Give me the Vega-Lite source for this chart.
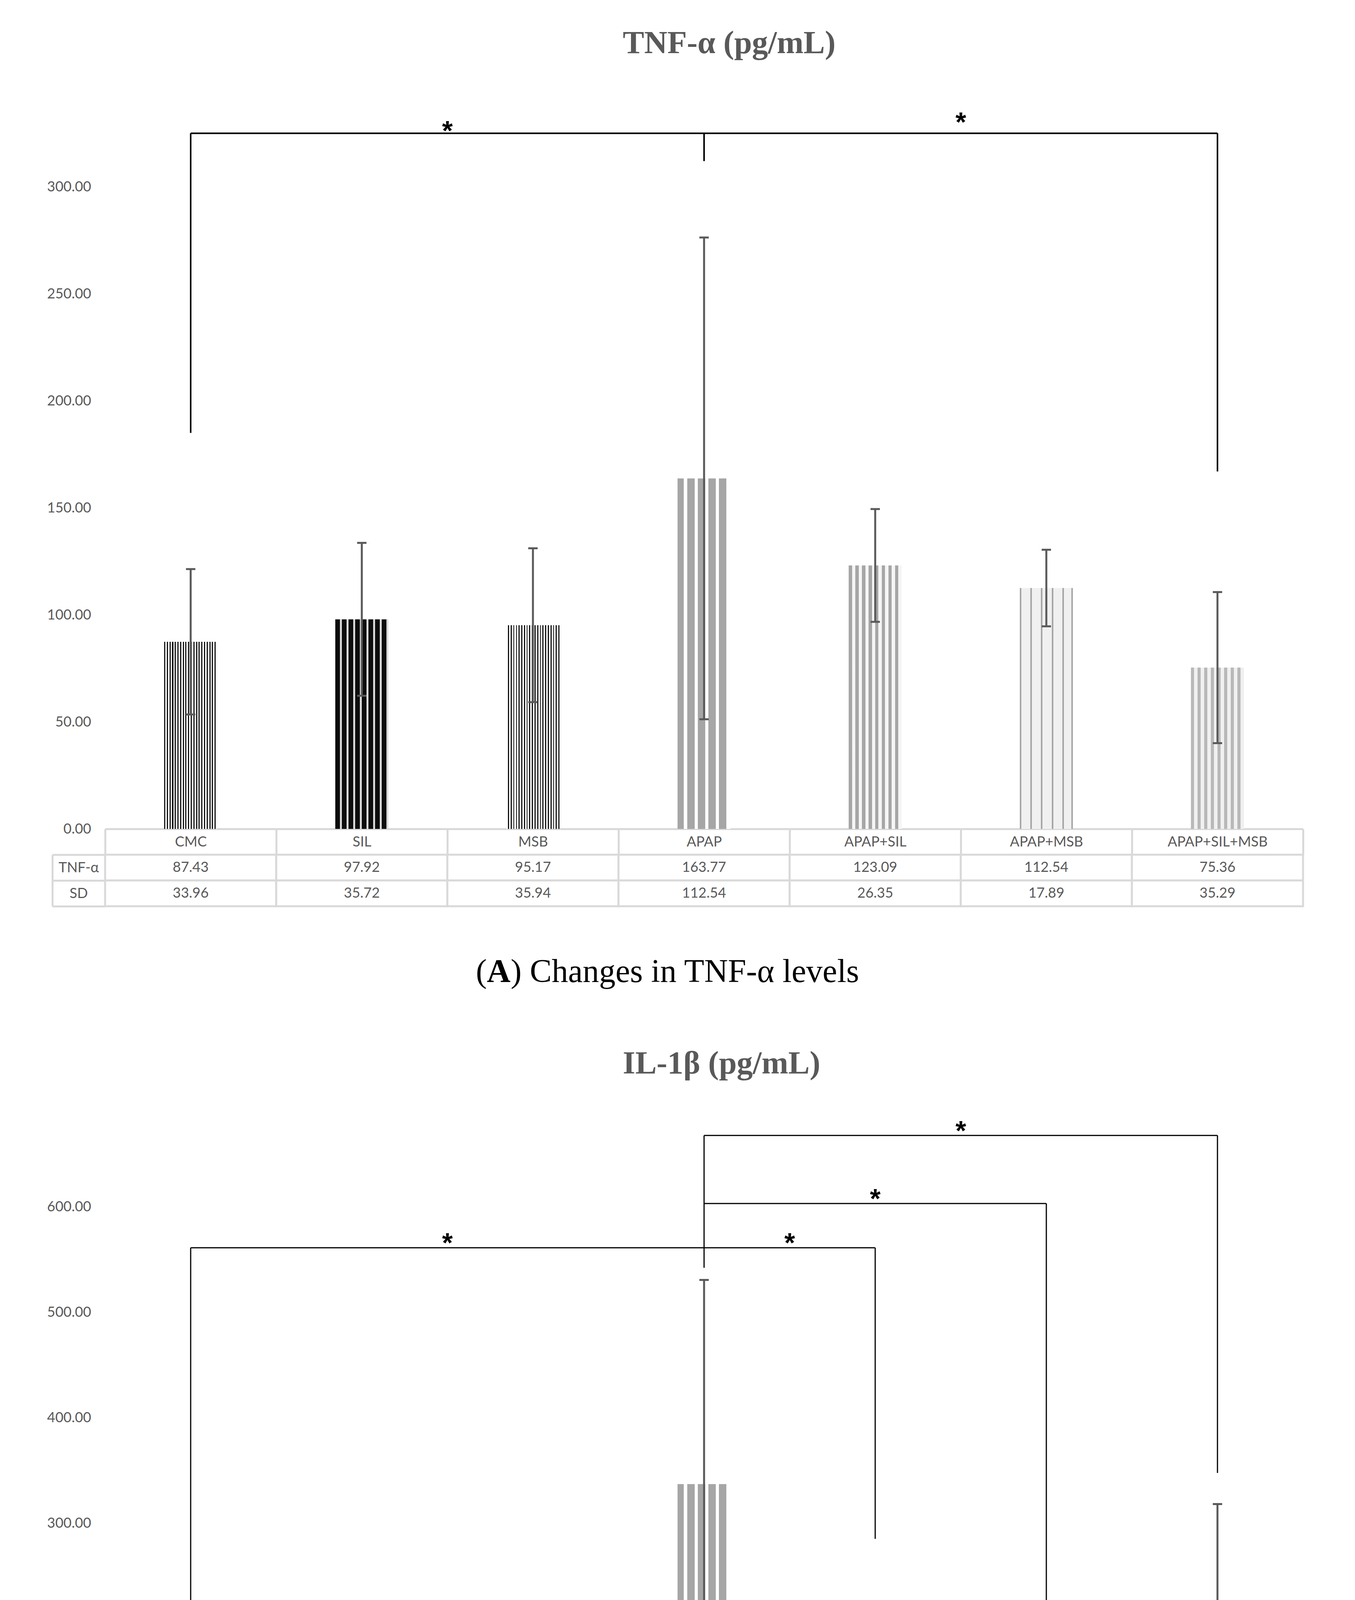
{
  "$schema": "https://vega.github.io/schema/vega-lite/v6.json",
  "background": "white",
  "padding": {"left": 120, "top": 70, "right": 40, "bottom": 10},
  "config": {"view": {"stroke": null}, "text": {"font": "Lato"}},
  "bounds": "flush",
  "spacing": 66,
  "datasets": {
    "tnf": [
      {"group": "CMC", "mean": 87.43, "sd": 33.96, "lo": 53.47, "hi": 121.39},
      {"group": "SIL", "mean": 97.92, "sd": 35.72, "lo": 62.2, "hi": 133.64},
      {"group": "MSB", "mean": 95.17, "sd": 35.94, "lo": 59.23, "hi": 131.11},
      {"group": "APAP", "mean": 163.77, "sd": 112.54, "lo": 51.23, "hi": 276.31},
      {"group": "APAP+SIL", "mean": 123.09, "sd": 26.35, "lo": 96.74, "hi": 149.44},
      {"group": "APAP+MSB", "mean": 112.54, "sd": 17.89, "lo": 94.65, "hi": 130.43},
      {"group": "APAP+SIL+MSB", "mean": 75.36, "sd": 35.29, "lo": 40.07, "hi": 110.65}
    ],
    "il": [
      {"group": "CMC", "mean": 97.04, "sd": 22.47, "lo": 76, "hi": 117},
      {"group": "SIL", "mean": 95.32, "sd": 9.48, "lo": 77, "hi": 113},
      {"group": "MSB", "mean": 82.04, "sd": 8.41, "lo": 65.5, "hi": 98.5},
      {"group": "APAP", "mean": 336.92, "sd": 44.89, "lo": 143, "hi": 530.5},
      {"group": "APAP+SIL", "mean": 160.2, "sd": 6.16, "lo": 101, "hi": 219},
      {"group": "APAP+MSB", "mean": 104.53, "sd": 9.13, "lo": 61, "hi": 147},
      {"group": "APAP+SIL+MSB", "mean": 171.57, "sd": 9.04, "lo": 25, "hi": 318}
    ],
    "tnfLines": [
      {"from": "CMC", "to": "APAP+SIL+MSB", "low": 325, "high": 325},
      {"from": "CMC", "to": "CMC", "low": 185, "high": 325},
      {"from": "APAP", "to": "APAP", "low": 312, "high": 325},
      {"from": "APAP+SIL+MSB", "to": "APAP+SIL+MSB", "low": 167, "high": 325}
    ],
    "ilLines": [
      {"from": "CMC", "to": "APAP+SIL", "low": 561, "high": 561},
      {"from": "APAP", "to": "APAP+MSB", "low": 603, "high": 603},
      {"from": "APAP", "to": "APAP+SIL+MSB", "low": 667.5, "high": 667.5},
      {"from": "CMC", "to": "CMC", "low": 145, "high": 561},
      {"from": "APAP", "to": "APAP", "low": 542, "high": 667.5},
      {"from": "APAP+SIL", "to": "APAP+SIL", "low": 285, "high": 561},
      {"from": "APAP+MSB", "to": "APAP+MSB", "low": 188, "high": 603},
      {"from": "APAP+SIL+MSB", "to": "APAP+SIL+MSB", "low": 347.5, "high": 667.5}
    ],
    "tnfStars": [
      {"at": "MSB", "anchor": "edge", "level": 324},
      {"at": "APAP+MSB", "anchor": "edge", "level": 328}
    ],
    "ilStars": [
      {"at": "MSB", "anchor": "edge", "level": 561},
      {"at": "APAP+SIL", "anchor": "edge", "level": 561},
      {"at": "APAP+SIL", "anchor": "center", "level": 603},
      {"at": "APAP+MSB", "anchor": "edge", "level": 667.5}
    ],
    "capA": [
      {"part": "(", "kind": "open"}
    ],
    "capB": [
      {"part": "(", "kind": "open"}
    ]
  },
  "vconcat": [
    {
      "width": 3066,
      "height": 1863,
      "title": {"text": "TNF-α (pg/mL)", "font": "Liberation Serif", "fontSize": 82, "fontWeight": "bold", "color": "#595959", "anchor": "start", "frame": "group", "dx": 1325, "offset": 106},
      "layer": [
        {
          "data": {"name": "tnf"},
          "mark": {"type": "bar", "width": {"band": 0.31}},
          "encoding": {
            "x": {"field": "group", "type": "nominal", "title": null, "scale": {"type": "band", "domain": ["CMC", "SIL", "MSB", "APAP", "APAP+SIL", "APAP+MSB", "APAP+SIL+MSB"], "paddingInner": 0, "paddingOuter": 0},
              "axis": {"orient": "bottom", "domain": true, "domainColor": "#d9d9d9", "domainWidth": 5, "ticks": true, "tickBand": "extent", "tickSize": 66, "tickColor": "#d9d9d9", "tickWidth": 5, "labelAngle": 0, "labelLimit": 0, "labelFont": "Lato", "labelFontSize": 36, "labelColor": "#595959", "labelPadding": -33, "labelBaseline": "middle", "grid": false}},
            "y": {"field": "mean", "type": "quantitative", "title": null, "scale": {"domain": [0, 340], "nice": false},
              "axis": {"values": [0, 50, 100, 150, 200, 250, 300], "format": ".2f", "domain": false, "ticks": false, "grid": false, "labelFont": "Lato", "labelFontSize": 36, "labelColor": "#595959", "labelPadding": 36, "labelBaseline": "middle"}},
            "color": {
              "condition": [
                {"test": "datum.group === 'CMC'", "value": {"gradient": "linear", "x1": 0, "y1": 0, "x2": 1, "y2": 0, "stops": [
                  {"offset": 0, "color": "#111111"}, {"offset": 0.0225, "color": "#111111"}, {"offset": 0.0225, "color": "#ffffff"}, {"offset": 0.05, "color": "#ffffff"},
                  {"offset": 0.05, "color": "#111111"}, {"offset": 0.0725, "color": "#111111"}, {"offset": 0.0725, "color": "#ffffff"}, {"offset": 0.1, "color": "#ffffff"},
                  {"offset": 0.1, "color": "#111111"}, {"offset": 0.1225, "color": "#111111"}, {"offset": 0.1225, "color": "#ffffff"}, {"offset": 0.15, "color": "#ffffff"},
                  {"offset": 0.15, "color": "#111111"}, {"offset": 0.1725, "color": "#111111"}, {"offset": 0.1725, "color": "#ffffff"}, {"offset": 0.2, "color": "#ffffff"},
                  {"offset": 0.2, "color": "#111111"}, {"offset": 0.2225, "color": "#111111"}, {"offset": 0.2225, "color": "#ffffff"}, {"offset": 0.25, "color": "#ffffff"},
                  {"offset": 0.25, "color": "#111111"}, {"offset": 0.2725, "color": "#111111"}, {"offset": 0.2725, "color": "#ffffff"}, {"offset": 0.3, "color": "#ffffff"},
                  {"offset": 0.3, "color": "#111111"}, {"offset": 0.3225, "color": "#111111"}, {"offset": 0.3225, "color": "#ffffff"}, {"offset": 0.35, "color": "#ffffff"},
                  {"offset": 0.35, "color": "#111111"}, {"offset": 0.3725, "color": "#111111"}, {"offset": 0.3725, "color": "#ffffff"}, {"offset": 0.4, "color": "#ffffff"},
                  {"offset": 0.4, "color": "#111111"}, {"offset": 0.4225, "color": "#111111"}, {"offset": 0.4225, "color": "#ffffff"}, {"offset": 0.45, "color": "#ffffff"},
                  {"offset": 0.45, "color": "#111111"}, {"offset": 0.4725, "color": "#111111"}, {"offset": 0.4725, "color": "#ffffff"}, {"offset": 0.5, "color": "#ffffff"},
                  {"offset": 0.5, "color": "#111111"}, {"offset": 0.5225, "color": "#111111"}, {"offset": 0.5225, "color": "#ffffff"}, {"offset": 0.55, "color": "#ffffff"},
                  {"offset": 0.55, "color": "#111111"}, {"offset": 0.5725, "color": "#111111"}, {"offset": 0.5725, "color": "#ffffff"}, {"offset": 0.6, "color": "#ffffff"},
                  {"offset": 0.6, "color": "#111111"}, {"offset": 0.6225, "color": "#111111"}, {"offset": 0.6225, "color": "#ffffff"}, {"offset": 0.65, "color": "#ffffff"},
                  {"offset": 0.65, "color": "#111111"}, {"offset": 0.6725, "color": "#111111"}, {"offset": 0.6725, "color": "#ffffff"}, {"offset": 0.7, "color": "#ffffff"},
                  {"offset": 0.7, "color": "#111111"}, {"offset": 0.7225, "color": "#111111"}, {"offset": 0.7225, "color": "#ffffff"}, {"offset": 0.75, "color": "#ffffff"},
                  {"offset": 0.75, "color": "#111111"}, {"offset": 0.7725, "color": "#111111"}, {"offset": 0.7725, "color": "#ffffff"}, {"offset": 0.8, "color": "#ffffff"},
                  {"offset": 0.8, "color": "#111111"}, {"offset": 0.8225, "color": "#111111"}, {"offset": 0.8225, "color": "#ffffff"}, {"offset": 0.85, "color": "#ffffff"},
                  {"offset": 0.85, "color": "#111111"}, {"offset": 0.8725, "color": "#111111"}, {"offset": 0.8725, "color": "#ffffff"}, {"offset": 0.9, "color": "#ffffff"},
                  {"offset": 0.9, "color": "#111111"}, {"offset": 0.9225, "color": "#111111"}, {"offset": 0.9225, "color": "#ffffff"}, {"offset": 0.95, "color": "#ffffff"},
                  {"offset": 0.95, "color": "#111111"}, {"offset": 0.9725, "color": "#111111"}, {"offset": 0.9725, "color": "#ffffff"}, {"offset": 1, "color": "#ffffff"}]}},
                {"test": "datum.group === 'SIL'", "value": {"gradient": "linear", "x1": 0, "y1": 0, "x2": 1, "y2": 0, "stops": [
                  {"offset": 0, "color": "#0d0d0d"}, {"offset": 0.0875, "color": "#0d0d0d"}, {"offset": 0.0875, "color": "#d9d9d9"}, {"offset": 0.125, "color": "#d9d9d9"},
                  {"offset": 0.125, "color": "#0d0d0d"}, {"offset": 0.2125, "color": "#0d0d0d"}, {"offset": 0.2125, "color": "#d9d9d9"}, {"offset": 0.25, "color": "#d9d9d9"},
                  {"offset": 0.25, "color": "#0d0d0d"}, {"offset": 0.3375, "color": "#0d0d0d"}, {"offset": 0.3375, "color": "#d9d9d9"}, {"offset": 0.375, "color": "#d9d9d9"},
                  {"offset": 0.375, "color": "#0d0d0d"}, {"offset": 0.4625, "color": "#0d0d0d"}, {"offset": 0.4625, "color": "#d9d9d9"}, {"offset": 0.5, "color": "#d9d9d9"},
                  {"offset": 0.5, "color": "#0d0d0d"}, {"offset": 0.5875, "color": "#0d0d0d"}, {"offset": 0.5875, "color": "#d9d9d9"}, {"offset": 0.625, "color": "#d9d9d9"},
                  {"offset": 0.625, "color": "#0d0d0d"}, {"offset": 0.7125, "color": "#0d0d0d"}, {"offset": 0.7125, "color": "#d9d9d9"}, {"offset": 0.75, "color": "#d9d9d9"},
                  {"offset": 0.75, "color": "#0d0d0d"}, {"offset": 0.8375, "color": "#0d0d0d"}, {"offset": 0.8375, "color": "#d9d9d9"}, {"offset": 0.875, "color": "#d9d9d9"},
                  {"offset": 0.875, "color": "#0d0d0d"}, {"offset": 0.9625, "color": "#0d0d0d"}, {"offset": 0.9625, "color": "#d9d9d9"}, {"offset": 1, "color": "#d9d9d9"}]}},
                {"test": "datum.group === 'MSB'", "value": {"gradient": "linear", "x1": 0, "y1": 0, "x2": 1, "y2": 0, "stops": [
                  {"offset": 0, "color": "#ffffff"}, {"offset": 0.03, "color": "#ffffff"}, {"offset": 0.03, "color": "#111111"}, {"offset": 0.05, "color": "#111111"},
                  {"offset": 0.05, "color": "#ffffff"}, {"offset": 0.08, "color": "#ffffff"}, {"offset": 0.08, "color": "#111111"}, {"offset": 0.1, "color": "#111111"},
                  {"offset": 0.1, "color": "#ffffff"}, {"offset": 0.13, "color": "#ffffff"}, {"offset": 0.13, "color": "#111111"}, {"offset": 0.15, "color": "#111111"},
                  {"offset": 0.15, "color": "#ffffff"}, {"offset": 0.18, "color": "#ffffff"}, {"offset": 0.18, "color": "#111111"}, {"offset": 0.2, "color": "#111111"},
                  {"offset": 0.2, "color": "#ffffff"}, {"offset": 0.23, "color": "#ffffff"}, {"offset": 0.23, "color": "#111111"}, {"offset": 0.25, "color": "#111111"},
                  {"offset": 0.25, "color": "#ffffff"}, {"offset": 0.28, "color": "#ffffff"}, {"offset": 0.28, "color": "#111111"}, {"offset": 0.3, "color": "#111111"},
                  {"offset": 0.3, "color": "#ffffff"}, {"offset": 0.33, "color": "#ffffff"}, {"offset": 0.33, "color": "#111111"}, {"offset": 0.35, "color": "#111111"},
                  {"offset": 0.35, "color": "#ffffff"}, {"offset": 0.38, "color": "#ffffff"}, {"offset": 0.38, "color": "#111111"}, {"offset": 0.4, "color": "#111111"},
                  {"offset": 0.4, "color": "#ffffff"}, {"offset": 0.43, "color": "#ffffff"}, {"offset": 0.43, "color": "#111111"}, {"offset": 0.45, "color": "#111111"},
                  {"offset": 0.45, "color": "#ffffff"}, {"offset": 0.48, "color": "#ffffff"}, {"offset": 0.48, "color": "#111111"}, {"offset": 0.5, "color": "#111111"},
                  {"offset": 0.5, "color": "#ffffff"}, {"offset": 0.53, "color": "#ffffff"}, {"offset": 0.53, "color": "#111111"}, {"offset": 0.55, "color": "#111111"},
                  {"offset": 0.55, "color": "#ffffff"}, {"offset": 0.58, "color": "#ffffff"}, {"offset": 0.58, "color": "#111111"}, {"offset": 0.6, "color": "#111111"},
                  {"offset": 0.6, "color": "#ffffff"}, {"offset": 0.63, "color": "#ffffff"}, {"offset": 0.63, "color": "#111111"}, {"offset": 0.65, "color": "#111111"},
                  {"offset": 0.65, "color": "#ffffff"}, {"offset": 0.68, "color": "#ffffff"}, {"offset": 0.68, "color": "#111111"}, {"offset": 0.7, "color": "#111111"},
                  {"offset": 0.7, "color": "#ffffff"}, {"offset": 0.73, "color": "#ffffff"}, {"offset": 0.73, "color": "#111111"}, {"offset": 0.75, "color": "#111111"},
                  {"offset": 0.75, "color": "#ffffff"}, {"offset": 0.78, "color": "#ffffff"}, {"offset": 0.78, "color": "#111111"}, {"offset": 0.8, "color": "#111111"},
                  {"offset": 0.8, "color": "#ffffff"}, {"offset": 0.83, "color": "#ffffff"}, {"offset": 0.83, "color": "#111111"}, {"offset": 0.85, "color": "#111111"},
                  {"offset": 0.85, "color": "#ffffff"}, {"offset": 0.88, "color": "#ffffff"}, {"offset": 0.88, "color": "#111111"}, {"offset": 0.9, "color": "#111111"},
                  {"offset": 0.9, "color": "#ffffff"}, {"offset": 0.93, "color": "#ffffff"}, {"offset": 0.93, "color": "#111111"}, {"offset": 0.95, "color": "#111111"},
                  {"offset": 0.95, "color": "#ffffff"}, {"offset": 0.98, "color": "#ffffff"}, {"offset": 0.98, "color": "#111111"}, {"offset": 1, "color": "#111111"}]}},
                {"test": "datum.group === 'APAP'", "value": {"gradient": "linear", "x1": 0, "y1": 0, "x2": 1, "y2": 0, "stops": [
                  {"offset": 0, "color": "#a6a6a6"}, {"offset": 0.12, "color": "#a6a6a6"}, {"offset": 0.12, "color": "#ffffff"}, {"offset": 0.18, "color": "#ffffff"},
                  {"offset": 0.18, "color": "#a6a6a6"}, {"offset": 0.32, "color": "#a6a6a6"}, {"offset": 0.32, "color": "#ffffff"}, {"offset": 0.38, "color": "#ffffff"},
                  {"offset": 0.38, "color": "#a6a6a6"}, {"offset": 0.52, "color": "#a6a6a6"}, {"offset": 0.52, "color": "#ffffff"}, {"offset": 0.58, "color": "#ffffff"},
                  {"offset": 0.58, "color": "#a6a6a6"}, {"offset": 0.72, "color": "#a6a6a6"}, {"offset": 0.72, "color": "#ffffff"}, {"offset": 0.78, "color": "#ffffff"},
                  {"offset": 0.78, "color": "#a6a6a6"}, {"offset": 0.92, "color": "#a6a6a6"}, {"offset": 0.92, "color": "#ffffff"}, {"offset": 1, "color": "#ffffff"}]}},
                {"test": "datum.group === 'APAP+SIL'", "value": {"gradient": "linear", "x1": 0, "y1": 0, "x2": 1, "y2": 0, "stops": [
                  {"offset": 0, "color": "#a6a6a6"}, {"offset": 0.0625, "color": "#a6a6a6"}, {"offset": 0.0625, "color": "#f5f5f5"}, {"offset": 0.125, "color": "#f5f5f5"},
                  {"offset": 0.125, "color": "#a6a6a6"}, {"offset": 0.1875, "color": "#a6a6a6"}, {"offset": 0.1875, "color": "#f5f5f5"}, {"offset": 0.25, "color": "#f5f5f5"},
                  {"offset": 0.25, "color": "#a6a6a6"}, {"offset": 0.3125, "color": "#a6a6a6"}, {"offset": 0.3125, "color": "#f5f5f5"}, {"offset": 0.375, "color": "#f5f5f5"},
                  {"offset": 0.375, "color": "#a6a6a6"}, {"offset": 0.4375, "color": "#a6a6a6"}, {"offset": 0.4375, "color": "#f5f5f5"}, {"offset": 0.5, "color": "#f5f5f5"},
                  {"offset": 0.5, "color": "#a6a6a6"}, {"offset": 0.5625, "color": "#a6a6a6"}, {"offset": 0.5625, "color": "#f5f5f5"}, {"offset": 0.625, "color": "#f5f5f5"},
                  {"offset": 0.625, "color": "#a6a6a6"}, {"offset": 0.6875, "color": "#a6a6a6"}, {"offset": 0.6875, "color": "#f5f5f5"}, {"offset": 0.75, "color": "#f5f5f5"},
                  {"offset": 0.75, "color": "#a6a6a6"}, {"offset": 0.8125, "color": "#a6a6a6"}, {"offset": 0.8125, "color": "#f5f5f5"}, {"offset": 0.875, "color": "#f5f5f5"},
                  {"offset": 0.875, "color": "#a6a6a6"}, {"offset": 0.9375, "color": "#a6a6a6"}, {"offset": 0.9375, "color": "#f5f5f5"}, {"offset": 1, "color": "#f5f5f5"}]}},
                {"test": "datum.group === 'APAP+MSB'", "value": {"gradient": "linear", "x1": 0, "y1": 0, "x2": 1, "y2": 0, "stops": [
                  {"offset": 0, "color": "#a6a6a6"}, {"offset": 0.03, "color": "#a6a6a6"}, {"offset": 0.03, "color": "#f0f0f0"}, {"offset": 0.2, "color": "#f0f0f0"},
                  {"offset": 0.2, "color": "#a6a6a6"}, {"offset": 0.23, "color": "#a6a6a6"}, {"offset": 0.23, "color": "#f0f0f0"}, {"offset": 0.4, "color": "#f0f0f0"},
                  {"offset": 0.4, "color": "#a6a6a6"}, {"offset": 0.43, "color": "#a6a6a6"}, {"offset": 0.43, "color": "#f0f0f0"}, {"offset": 0.6, "color": "#f0f0f0"},
                  {"offset": 0.6, "color": "#a6a6a6"}, {"offset": 0.63, "color": "#a6a6a6"}, {"offset": 0.63, "color": "#f0f0f0"}, {"offset": 0.8, "color": "#f0f0f0"},
                  {"offset": 0.8, "color": "#a6a6a6"}, {"offset": 0.83, "color": "#a6a6a6"}, {"offset": 0.83, "color": "#f0f0f0"}, {"offset": 0.97, "color": "#f0f0f0"},
                  {"offset": 0.97, "color": "#a6a6a6"}, {"offset": 1, "color": "#a6a6a6"}]}},
                {"test": "datum.group === 'APAP+SIL+MSB'", "value": {"gradient": "linear", "x1": 0, "y1": 0, "x2": 1, "y2": 0, "stops": [
                  {"offset": 0, "color": "#b8b8b8"}, {"offset": 0.0563, "color": "#b8b8b8"}, {"offset": 0.0563, "color": "#f0f0f0"}, {"offset": 0.125, "color": "#f0f0f0"},
                  {"offset": 0.125, "color": "#b8b8b8"}, {"offset": 0.1813, "color": "#b8b8b8"}, {"offset": 0.1813, "color": "#f0f0f0"}, {"offset": 0.25, "color": "#f0f0f0"},
                  {"offset": 0.25, "color": "#b8b8b8"}, {"offset": 0.3063, "color": "#b8b8b8"}, {"offset": 0.3063, "color": "#f0f0f0"}, {"offset": 0.375, "color": "#f0f0f0"},
                  {"offset": 0.375, "color": "#b8b8b8"}, {"offset": 0.4313, "color": "#b8b8b8"}, {"offset": 0.4313, "color": "#f0f0f0"}, {"offset": 0.5, "color": "#f0f0f0"},
                  {"offset": 0.5, "color": "#b8b8b8"}, {"offset": 0.5563, "color": "#b8b8b8"}, {"offset": 0.5563, "color": "#f0f0f0"}, {"offset": 0.625, "color": "#f0f0f0"},
                  {"offset": 0.625, "color": "#b8b8b8"}, {"offset": 0.6813, "color": "#b8b8b8"}, {"offset": 0.6813, "color": "#f0f0f0"}, {"offset": 0.75, "color": "#f0f0f0"},
                  {"offset": 0.75, "color": "#b8b8b8"}, {"offset": 0.8063, "color": "#b8b8b8"}, {"offset": 0.8063, "color": "#f0f0f0"}, {"offset": 0.875, "color": "#f0f0f0"},
                  {"offset": 0.875, "color": "#b8b8b8"}, {"offset": 0.9313, "color": "#b8b8b8"}, {"offset": 0.9313, "color": "#f0f0f0"}, {"offset": 1, "color": "#f0f0f0"}]}}
              ],
              "value": "#cccccc"
            }
          }
        },
        {
          "data": {"name": "tnf"},
          "mark": {"type": "rule", "color": "#595959", "strokeWidth": 5},
          "encoding": {
            "x": {"field": "group", "type": "nominal", "title": null, "scale": {"type": "band", "domain": ["CMC", "SIL", "MSB", "APAP", "APAP+SIL", "APAP+MSB", "APAP+SIL+MSB"], "paddingInner": 0, "paddingOuter": 0}},
            "y": {"field": "lo", "type": "quantitative", "title": null, "scale": {"domain": [0, 340], "nice": false}},
            "y2": {"field": "hi"}
          }
        },
        {
          "data": {"name": "tnf"},
          "mark": {"type": "tick", "orient": "horizontal", "size": 24, "thickness": 5, "color": "#595959", "opacity": 1},
          "encoding": {
            "x": {"field": "group", "type": "nominal", "title": null, "scale": {"type": "band", "domain": ["CMC", "SIL", "MSB", "APAP", "APAP+SIL", "APAP+MSB", "APAP+SIL+MSB"], "paddingInner": 0, "paddingOuter": 0}},
            "y": {"field": "lo", "type": "quantitative", "title": null, "scale": {"domain": [0, 340], "nice": false}}
          }
        },
        {
          "data": {"name": "tnf"},
          "mark": {"type": "tick", "orient": "horizontal", "size": 24, "thickness": 5, "color": "#595959", "opacity": 1},
          "encoding": {
            "x": {"field": "group", "type": "nominal", "title": null, "scale": {"type": "band", "domain": ["CMC", "SIL", "MSB", "APAP", "APAP+SIL", "APAP+MSB", "APAP+SIL+MSB"], "paddingInner": 0, "paddingOuter": 0}},
            "y": {"field": "hi", "type": "quantitative", "title": null, "scale": {"domain": [0, 340], "nice": false}}
          }
        },
        {
          "data": {"name": "tnfLines"},
          "mark": {"type": "rule", "color": "#000000", "strokeWidth": 4},
          "encoding": {
            "x": {"field": "from", "type": "nominal", "title": null, "scale": {"type": "band", "domain": ["CMC", "SIL", "MSB", "APAP", "APAP+SIL", "APAP+MSB", "APAP+SIL+MSB"], "paddingInner": 0, "paddingOuter": 0}},
            "x2": {"field": "to"},
            "y": {"field": "low", "type": "quantitative", "title": null, "scale": {"domain": [0, 340], "nice": false}},
            "y2": {"field": "high"}
          }
        },
        {
          "data": {"name": "tnfStars"},
          "transform": [{"filter": "datum.anchor === 'edge'"}],
          "mark": {"type": "text", "text": "*", "font": "Liberation Sans", "fontSize": 70, "fontWeight": "bold", "color": "#000000", "baseline": "alphabetic", "dy": 12},
          "encoding": {
            "x": {"field": "at", "type": "nominal", "title": null, "bandPosition": 0, "scale": {"type": "band", "domain": ["CMC", "SIL", "MSB", "APAP", "APAP+SIL", "APAP+MSB", "APAP+SIL+MSB"], "paddingInner": 0, "paddingOuter": 0}},
            "y": {"field": "level", "type": "quantitative", "title": null, "scale": {"domain": [0, 340], "nice": false}}
          }
        }
      ]
    },
    {
      "width": 3066,
      "height": 132,
      "data": {"name": "tnf"},
      "transform": [{"fold": ["mean", "sd"], "as": ["row", "val"]}],
      "encoding": {
        "x": {"field": "group", "type": "nominal", "title": null, "axis": null, "scale": {"type": "band", "domain": ["CMC", "SIL", "MSB", "APAP", "APAP+SIL", "APAP+MSB", "APAP+SIL+MSB"], "paddingInner": 0, "paddingOuter": 0}}
      },
      "layer": [
        {
          "mark": {"type": "rect", "fill": "#ffffff", "stroke": "#d9d9d9", "strokeWidth": 5},
          "encoding": {
            "y": {"field": "row", "type": "nominal", "title": null, "scale": {"type": "band", "domain": ["mean", "sd"], "paddingInner": 0, "paddingOuter": 0},
              "axis": {"orient": "left", "domain": false, "ticks": true, "tickBand": "extent", "tickSize": 135, "tickColor": "#d9d9d9", "tickWidth": 5, "labelExpr": "datum.value === 'mean' ? 'TNF-α' : (datum.value === 'sd' ? 'SD' : '')", "labelAlign": "center", "labelBaseline": "middle", "labelPadding": -67, "labelFont": "Lato", "labelFontSize": 36, "labelColor": "#595959", "grid": false}}
          }
        },
        {
          "mark": {"type": "text", "font": "Lato", "fontSize": 36, "color": "#595959", "baseline": "middle"},
          "encoding": {
            "y": {"field": "row", "type": "nominal", "title": null, "scale": {"type": "band", "domain": ["mean", "sd"], "paddingInner": 0, "paddingOuter": 0},
              "axis": {"orient": "left", "offset": 135, "domain": true, "domainColor": "#d9d9d9", "domainWidth": 5, "ticks": false, "labels": false, "grid": false}},
            "text": {"field": "val", "type": "quantitative", "format": ".2f"}
          }
        }
      ],
      "resolve": {"axis": {"y": "independent"}}
    },
    {
      "width": 3066,
      "height": 367,
      "data": {"name": "capA"},
      "layer": [
        {"mark": {"type": "text", "text": "(", "font": "Liberation Serif", "fontSize": 84, "color": "#000000", "align": "left", "dx": -584, "dy": -81}, "encoding": {}},
        {"mark": {"type": "text", "text": "A", "font": "Liberation Serif", "fontSize": 84, "fontWeight": "bold", "color": "#000000", "align": "left", "dx": -556, "dy": -81}, "encoding": {}},
        {"mark": {"type": "text", "text": ") Changes in TNF-α levels", "font": "Liberation Serif", "fontSize": 84, "color": "#000000", "align": "left", "dx": -495, "dy": -81}, "encoding": {}}
      ]
    },
    {
      "width": 3066,
      "height": 1890,
      "title": {"text": "IL-1β (pg/mL)", "font": "Liberation Serif", "fontSize": 82, "fontWeight": "bold", "color": "#595959", "anchor": "start", "frame": "group", "dx": 1325, "offset": 54},
      "layer": [
        {
          "data": {"name": "il"},
          "mark": {"type": "bar", "width": {"band": 0.31}},
          "encoding": {
            "x": {"field": "group", "type": "nominal", "title": null, "scale": {"type": "band", "domain": ["CMC", "SIL", "MSB", "APAP", "APAP+SIL", "APAP+MSB", "APAP+SIL+MSB"], "paddingInner": 0, "paddingOuter": 0},
              "axis": {"orient": "bottom", "domain": true, "domainColor": "#d9d9d9", "domainWidth": 5, "ticks": true, "tickBand": "extent", "tickSize": 66, "tickColor": "#d9d9d9", "tickWidth": 5, "labelAngle": 0, "labelLimit": 0, "labelFont": "Lato", "labelFontSize": 36, "labelColor": "#595959", "labelPadding": -33, "labelBaseline": "middle", "grid": false}},
            "y": {"field": "mean", "type": "quantitative", "title": null, "scale": {"domain": [0, 700], "nice": false},
              "axis": {"values": [0, 100, 200, 300, 400, 500, 600], "format": ".2f", "domain": false, "ticks": false, "grid": false, "labelFont": "Lato", "labelFontSize": 36, "labelColor": "#595959", "labelPadding": 36, "labelBaseline": "middle"}},
            "color": {
              "condition": [
                {"test": "datum.group === 'CMC'", "value": {"gradient": "linear", "x1": 0, "y1": 0, "x2": 1, "y2": 0, "stops": [
                  {"offset": 0, "color": "#111111"}, {"offset": 0.0225, "color": "#111111"}, {"offset": 0.0225, "color": "#ffffff"}, {"offset": 0.05, "color": "#ffffff"},
                  {"offset": 0.05, "color": "#111111"}, {"offset": 0.0725, "color": "#111111"}, {"offset": 0.0725, "color": "#ffffff"}, {"offset": 0.1, "color": "#ffffff"},
                  {"offset": 0.1, "color": "#111111"}, {"offset": 0.1225, "color": "#111111"}, {"offset": 0.1225, "color": "#ffffff"}, {"offset": 0.15, "color": "#ffffff"},
                  {"offset": 0.15, "color": "#111111"}, {"offset": 0.1725, "color": "#111111"}, {"offset": 0.1725, "color": "#ffffff"}, {"offset": 0.2, "color": "#ffffff"},
                  {"offset": 0.2, "color": "#111111"}, {"offset": 0.2225, "color": "#111111"}, {"offset": 0.2225, "color": "#ffffff"}, {"offset": 0.25, "color": "#ffffff"},
                  {"offset": 0.25, "color": "#111111"}, {"offset": 0.2725, "color": "#111111"}, {"offset": 0.2725, "color": "#ffffff"}, {"offset": 0.3, "color": "#ffffff"},
                  {"offset": 0.3, "color": "#111111"}, {"offset": 0.3225, "color": "#111111"}, {"offset": 0.3225, "color": "#ffffff"}, {"offset": 0.35, "color": "#ffffff"},
                  {"offset": 0.35, "color": "#111111"}, {"offset": 0.3725, "color": "#111111"}, {"offset": 0.3725, "color": "#ffffff"}, {"offset": 0.4, "color": "#ffffff"},
                  {"offset": 0.4, "color": "#111111"}, {"offset": 0.4225, "color": "#111111"}, {"offset": 0.4225, "color": "#ffffff"}, {"offset": 0.45, "color": "#ffffff"},
                  {"offset": 0.45, "color": "#111111"}, {"offset": 0.4725, "color": "#111111"}, {"offset": 0.4725, "color": "#ffffff"}, {"offset": 0.5, "color": "#ffffff"},
                  {"offset": 0.5, "color": "#111111"}, {"offset": 0.5225, "color": "#111111"}, {"offset": 0.5225, "color": "#ffffff"}, {"offset": 0.55, "color": "#ffffff"},
                  {"offset": 0.55, "color": "#111111"}, {"offset": 0.5725, "color": "#111111"}, {"offset": 0.5725, "color": "#ffffff"}, {"offset": 0.6, "color": "#ffffff"},
                  {"offset": 0.6, "color": "#111111"}, {"offset": 0.6225, "color": "#111111"}, {"offset": 0.6225, "color": "#ffffff"}, {"offset": 0.65, "color": "#ffffff"},
                  {"offset": 0.65, "color": "#111111"}, {"offset": 0.6725, "color": "#111111"}, {"offset": 0.6725, "color": "#ffffff"}, {"offset": 0.7, "color": "#ffffff"},
                  {"offset": 0.7, "color": "#111111"}, {"offset": 0.7225, "color": "#111111"}, {"offset": 0.7225, "color": "#ffffff"}, {"offset": 0.75, "color": "#ffffff"},
                  {"offset": 0.75, "color": "#111111"}, {"offset": 0.7725, "color": "#111111"}, {"offset": 0.7725, "color": "#ffffff"}, {"offset": 0.8, "color": "#ffffff"},
                  {"offset": 0.8, "color": "#111111"}, {"offset": 0.8225, "color": "#111111"}, {"offset": 0.8225, "color": "#ffffff"}, {"offset": 0.85, "color": "#ffffff"},
                  {"offset": 0.85, "color": "#111111"}, {"offset": 0.8725, "color": "#111111"}, {"offset": 0.8725, "color": "#ffffff"}, {"offset": 0.9, "color": "#ffffff"},
                  {"offset": 0.9, "color": "#111111"}, {"offset": 0.9225, "color": "#111111"}, {"offset": 0.9225, "color": "#ffffff"}, {"offset": 0.95, "color": "#ffffff"},
                  {"offset": 0.95, "color": "#111111"}, {"offset": 0.9725, "color": "#111111"}, {"offset": 0.9725, "color": "#ffffff"}, {"offset": 1, "color": "#ffffff"}]}},
                {"test": "datum.group === 'SIL'", "value": {"gradient": "linear", "x1": 0, "y1": 0, "x2": 1, "y2": 0, "stops": [
                  {"offset": 0, "color": "#0d0d0d"}, {"offset": 0.0875, "color": "#0d0d0d"}, {"offset": 0.0875, "color": "#d9d9d9"}, {"offset": 0.125, "color": "#d9d9d9"},
                  {"offset": 0.125, "color": "#0d0d0d"}, {"offset": 0.2125, "color": "#0d0d0d"}, {"offset": 0.2125, "color": "#d9d9d9"}, {"offset": 0.25, "color": "#d9d9d9"},
                  {"offset": 0.25, "color": "#0d0d0d"}, {"offset": 0.3375, "color": "#0d0d0d"}, {"offset": 0.3375, "color": "#d9d9d9"}, {"offset": 0.375, "color": "#d9d9d9"},
                  {"offset": 0.375, "color": "#0d0d0d"}, {"offset": 0.4625, "color": "#0d0d0d"}, {"offset": 0.4625, "color": "#d9d9d9"}, {"offset": 0.5, "color": "#d9d9d9"},
                  {"offset": 0.5, "color": "#0d0d0d"}, {"offset": 0.5875, "color": "#0d0d0d"}, {"offset": 0.5875, "color": "#d9d9d9"}, {"offset": 0.625, "color": "#d9d9d9"},
                  {"offset": 0.625, "color": "#0d0d0d"}, {"offset": 0.7125, "color": "#0d0d0d"}, {"offset": 0.7125, "color": "#d9d9d9"}, {"offset": 0.75, "color": "#d9d9d9"},
                  {"offset": 0.75, "color": "#0d0d0d"}, {"offset": 0.8375, "color": "#0d0d0d"}, {"offset": 0.8375, "color": "#d9d9d9"}, {"offset": 0.875, "color": "#d9d9d9"},
                  {"offset": 0.875, "color": "#0d0d0d"}, {"offset": 0.9625, "color": "#0d0d0d"}, {"offset": 0.9625, "color": "#d9d9d9"}, {"offset": 1, "color": "#d9d9d9"}]}},
                {"test": "datum.group === 'MSB'", "value": {"gradient": "linear", "x1": 0, "y1": 0, "x2": 1, "y2": 0, "stops": [
                  {"offset": 0, "color": "#ffffff"}, {"offset": 0.03, "color": "#ffffff"}, {"offset": 0.03, "color": "#111111"}, {"offset": 0.05, "color": "#111111"},
                  {"offset": 0.05, "color": "#ffffff"}, {"offset": 0.08, "color": "#ffffff"}, {"offset": 0.08, "color": "#111111"}, {"offset": 0.1, "color": "#111111"},
                  {"offset": 0.1, "color": "#ffffff"}, {"offset": 0.13, "color": "#ffffff"}, {"offset": 0.13, "color": "#111111"}, {"offset": 0.15, "color": "#111111"},
                  {"offset": 0.15, "color": "#ffffff"}, {"offset": 0.18, "color": "#ffffff"}, {"offset": 0.18, "color": "#111111"}, {"offset": 0.2, "color": "#111111"},
                  {"offset": 0.2, "color": "#ffffff"}, {"offset": 0.23, "color": "#ffffff"}, {"offset": 0.23, "color": "#111111"}, {"offset": 0.25, "color": "#111111"},
                  {"offset": 0.25, "color": "#ffffff"}, {"offset": 0.28, "color": "#ffffff"}, {"offset": 0.28, "color": "#111111"}, {"offset": 0.3, "color": "#111111"},
                  {"offset": 0.3, "color": "#ffffff"}, {"offset": 0.33, "color": "#ffffff"}, {"offset": 0.33, "color": "#111111"}, {"offset": 0.35, "color": "#111111"},
                  {"offset": 0.35, "color": "#ffffff"}, {"offset": 0.38, "color": "#ffffff"}, {"offset": 0.38, "color": "#111111"}, {"offset": 0.4, "color": "#111111"},
                  {"offset": 0.4, "color": "#ffffff"}, {"offset": 0.43, "color": "#ffffff"}, {"offset": 0.43, "color": "#111111"}, {"offset": 0.45, "color": "#111111"},
                  {"offset": 0.45, "color": "#ffffff"}, {"offset": 0.48, "color": "#ffffff"}, {"offset": 0.48, "color": "#111111"}, {"offset": 0.5, "color": "#111111"},
                  {"offset": 0.5, "color": "#ffffff"}, {"offset": 0.53, "color": "#ffffff"}, {"offset": 0.53, "color": "#111111"}, {"offset": 0.55, "color": "#111111"},
                  {"offset": 0.55, "color": "#ffffff"}, {"offset": 0.58, "color": "#ffffff"}, {"offset": 0.58, "color": "#111111"}, {"offset": 0.6, "color": "#111111"},
                  {"offset": 0.6, "color": "#ffffff"}, {"offset": 0.63, "color": "#ffffff"}, {"offset": 0.63, "color": "#111111"}, {"offset": 0.65, "color": "#111111"},
                  {"offset": 0.65, "color": "#ffffff"}, {"offset": 0.68, "color": "#ffffff"}, {"offset": 0.68, "color": "#111111"}, {"offset": 0.7, "color": "#111111"},
                  {"offset": 0.7, "color": "#ffffff"}, {"offset": 0.73, "color": "#ffffff"}, {"offset": 0.73, "color": "#111111"}, {"offset": 0.75, "color": "#111111"},
                  {"offset": 0.75, "color": "#ffffff"}, {"offset": 0.78, "color": "#ffffff"}, {"offset": 0.78, "color": "#111111"}, {"offset": 0.8, "color": "#111111"},
                  {"offset": 0.8, "color": "#ffffff"}, {"offset": 0.83, "color": "#ffffff"}, {"offset": 0.83, "color": "#111111"}, {"offset": 0.85, "color": "#111111"},
                  {"offset": 0.85, "color": "#ffffff"}, {"offset": 0.88, "color": "#ffffff"}, {"offset": 0.88, "color": "#111111"}, {"offset": 0.9, "color": "#111111"},
                  {"offset": 0.9, "color": "#ffffff"}, {"offset": 0.93, "color": "#ffffff"}, {"offset": 0.93, "color": "#111111"}, {"offset": 0.95, "color": "#111111"},
                  {"offset": 0.95, "color": "#ffffff"}, {"offset": 0.98, "color": "#ffffff"}, {"offset": 0.98, "color": "#111111"}, {"offset": 1, "color": "#111111"}]}},
                {"test": "datum.group === 'APAP'", "value": {"gradient": "linear", "x1": 0, "y1": 0, "x2": 1, "y2": 0, "stops": [
                  {"offset": 0, "color": "#a6a6a6"}, {"offset": 0.12, "color": "#a6a6a6"}, {"offset": 0.12, "color": "#ffffff"}, {"offset": 0.18, "color": "#ffffff"},
                  {"offset": 0.18, "color": "#a6a6a6"}, {"offset": 0.32, "color": "#a6a6a6"}, {"offset": 0.32, "color": "#ffffff"}, {"offset": 0.38, "color": "#ffffff"},
                  {"offset": 0.38, "color": "#a6a6a6"}, {"offset": 0.52, "color": "#a6a6a6"}, {"offset": 0.52, "color": "#ffffff"}, {"offset": 0.58, "color": "#ffffff"},
                  {"offset": 0.58, "color": "#a6a6a6"}, {"offset": 0.72, "color": "#a6a6a6"}, {"offset": 0.72, "color": "#ffffff"}, {"offset": 0.78, "color": "#ffffff"},
                  {"offset": 0.78, "color": "#a6a6a6"}, {"offset": 0.92, "color": "#a6a6a6"}, {"offset": 0.92, "color": "#ffffff"}, {"offset": 1, "color": "#ffffff"}]}},
                {"test": "datum.group === 'APAP+SIL'", "value": {"gradient": "linear", "x1": 0, "y1": 0, "x2": 1, "y2": 0, "stops": [
                  {"offset": 0, "color": "#a6a6a6"}, {"offset": 0.0625, "color": "#a6a6a6"}, {"offset": 0.0625, "color": "#f5f5f5"}, {"offset": 0.125, "color": "#f5f5f5"},
                  {"offset": 0.125, "color": "#a6a6a6"}, {"offset": 0.1875, "color": "#a6a6a6"}, {"offset": 0.1875, "color": "#f5f5f5"}, {"offset": 0.25, "color": "#f5f5f5"},
                  {"offset": 0.25, "color": "#a6a6a6"}, {"offset": 0.3125, "color": "#a6a6a6"}, {"offset": 0.3125, "color": "#f5f5f5"}, {"offset": 0.375, "color": "#f5f5f5"},
                  {"offset": 0.375, "color": "#a6a6a6"}, {"offset": 0.4375, "color": "#a6a6a6"}, {"offset": 0.4375, "color": "#f5f5f5"}, {"offset": 0.5, "color": "#f5f5f5"},
                  {"offset": 0.5, "color": "#a6a6a6"}, {"offset": 0.5625, "color": "#a6a6a6"}, {"offset": 0.5625, "color": "#f5f5f5"}, {"offset": 0.625, "color": "#f5f5f5"},
                  {"offset": 0.625, "color": "#a6a6a6"}, {"offset": 0.6875, "color": "#a6a6a6"}, {"offset": 0.6875, "color": "#f5f5f5"}, {"offset": 0.75, "color": "#f5f5f5"},
                  {"offset": 0.75, "color": "#a6a6a6"}, {"offset": 0.8125, "color": "#a6a6a6"}, {"offset": 0.8125, "color": "#f5f5f5"}, {"offset": 0.875, "color": "#f5f5f5"},
                  {"offset": 0.875, "color": "#a6a6a6"}, {"offset": 0.9375, "color": "#a6a6a6"}, {"offset": 0.9375, "color": "#f5f5f5"}, {"offset": 1, "color": "#f5f5f5"}]}},
                {"test": "datum.group === 'APAP+MSB'", "value": {"gradient": "linear", "x1": 0, "y1": 0, "x2": 1, "y2": 0, "stops": [
                  {"offset": 0, "color": "#a6a6a6"}, {"offset": 0.03, "color": "#a6a6a6"}, {"offset": 0.03, "color": "#f0f0f0"}, {"offset": 0.2, "color": "#f0f0f0"},
                  {"offset": 0.2, "color": "#a6a6a6"}, {"offset": 0.23, "color": "#a6a6a6"}, {"offset": 0.23, "color": "#f0f0f0"}, {"offset": 0.4, "color": "#f0f0f0"},
                  {"offset": 0.4, "color": "#a6a6a6"}, {"offset": 0.43, "color": "#a6a6a6"}, {"offset": 0.43, "color": "#f0f0f0"}, {"offset": 0.6, "color": "#f0f0f0"},
                  {"offset": 0.6, "color": "#a6a6a6"}, {"offset": 0.63, "color": "#a6a6a6"}, {"offset": 0.63, "color": "#f0f0f0"}, {"offset": 0.8, "color": "#f0f0f0"},
                  {"offset": 0.8, "color": "#a6a6a6"}, {"offset": 0.83, "color": "#a6a6a6"}, {"offset": 0.83, "color": "#f0f0f0"}, {"offset": 0.97, "color": "#f0f0f0"},
                  {"offset": 0.97, "color": "#a6a6a6"}, {"offset": 1, "color": "#a6a6a6"}]}},
                {"test": "datum.group === 'APAP+SIL+MSB'", "value": {"gradient": "linear", "x1": 0, "y1": 0, "x2": 1, "y2": 0, "stops": [
                  {"offset": 0, "color": "#b8b8b8"}, {"offset": 0.0563, "color": "#b8b8b8"}, {"offset": 0.0563, "color": "#f0f0f0"}, {"offset": 0.125, "color": "#f0f0f0"},
                  {"offset": 0.125, "color": "#b8b8b8"}, {"offset": 0.1813, "color": "#b8b8b8"}, {"offset": 0.1813, "color": "#f0f0f0"}, {"offset": 0.25, "color": "#f0f0f0"},
                  {"offset": 0.25, "color": "#b8b8b8"}, {"offset": 0.3063, "color": "#b8b8b8"}, {"offset": 0.3063, "color": "#f0f0f0"}, {"offset": 0.375, "color": "#f0f0f0"},
                  {"offset": 0.375, "color": "#b8b8b8"}, {"offset": 0.4313, "color": "#b8b8b8"}, {"offset": 0.4313, "color": "#f0f0f0"}, {"offset": 0.5, "color": "#f0f0f0"},
                  {"offset": 0.5, "color": "#b8b8b8"}, {"offset": 0.5563, "color": "#b8b8b8"}, {"offset": 0.5563, "color": "#f0f0f0"}, {"offset": 0.625, "color": "#f0f0f0"},
                  {"offset": 0.625, "color": "#b8b8b8"}, {"offset": 0.6813, "color": "#b8b8b8"}, {"offset": 0.6813, "color": "#f0f0f0"}, {"offset": 0.75, "color": "#f0f0f0"},
                  {"offset": 0.75, "color": "#b8b8b8"}, {"offset": 0.8063, "color": "#b8b8b8"}, {"offset": 0.8063, "color": "#f0f0f0"}, {"offset": 0.875, "color": "#f0f0f0"},
                  {"offset": 0.875, "color": "#b8b8b8"}, {"offset": 0.9313, "color": "#b8b8b8"}, {"offset": 0.9313, "color": "#f0f0f0"}, {"offset": 1, "color": "#f0f0f0"}]}}
              ],
              "value": "#cccccc"
            }
          }
        },
        {
          "data": {"name": "il"},
          "mark": {"type": "rule", "color": "#595959", "strokeWidth": 5},
          "encoding": {
            "x": {"field": "group", "type": "nominal", "title": null, "scale": {"type": "band", "domain": ["CMC", "SIL", "MSB", "APAP", "APAP+SIL", "APAP+MSB", "APAP+SIL+MSB"], "paddingInner": 0, "paddingOuter": 0}},
            "y": {"field": "lo", "type": "quantitative", "title": null, "scale": {"domain": [0, 700], "nice": false}},
            "y2": {"field": "hi"}
          }
        },
        {
          "data": {"name": "il"},
          "mark": {"type": "tick", "orient": "horizontal", "size": 24, "thickness": 5, "color": "#595959", "opacity": 1},
          "encoding": {
            "x": {"field": "group", "type": "nominal", "title": null, "scale": {"type": "band", "domain": ["CMC", "SIL", "MSB", "APAP", "APAP+SIL", "APAP+MSB", "APAP+SIL+MSB"], "paddingInner": 0, "paddingOuter": 0}},
            "y": {"field": "lo", "type": "quantitative", "title": null, "scale": {"domain": [0, 700], "nice": false}}
          }
        },
        {
          "data": {"name": "il"},
          "mark": {"type": "tick", "orient": "horizontal", "size": 24, "thickness": 5, "color": "#595959", "opacity": 1},
          "encoding": {
            "x": {"field": "group", "type": "nominal", "title": null, "scale": {"type": "band", "domain": ["CMC", "SIL", "MSB", "APAP", "APAP+SIL", "APAP+MSB", "APAP+SIL+MSB"], "paddingInner": 0, "paddingOuter": 0}},
            "y": {"field": "hi", "type": "quantitative", "title": null, "scale": {"domain": [0, 700], "nice": false}}
          }
        },
        {
          "data": {"name": "ilLines"},
          "mark": {"type": "rule", "color": "#000000", "strokeWidth": 3},
          "encoding": {
            "x": {"field": "from", "type": "nominal", "title": null, "scale": {"type": "band", "domain": ["CMC", "SIL", "MSB", "APAP", "APAP+SIL", "APAP+MSB", "APAP+SIL+MSB"], "paddingInner": 0, "paddingOuter": 0}},
            "x2": {"field": "to"},
            "y": {"field": "low", "type": "quantitative", "title": null, "scale": {"domain": [0, 700], "nice": false}},
            "y2": {"field": "high"}
          }
        },
        {
          "data": {"name": "ilStars"},
          "transform": [{"filter": "datum.anchor === 'edge'"}],
          "mark": {"type": "text", "text": "*", "font": "Liberation Sans", "fontSize": 70, "fontWeight": "bold", "color": "#000000", "baseline": "alphabetic", "dy": 12},
          "encoding": {
            "x": {"field": "at", "type": "nominal", "title": null, "bandPosition": 0, "scale": {"type": "band", "domain": ["CMC", "SIL", "MSB", "APAP", "APAP+SIL", "APAP+MSB", "APAP+SIL+MSB"], "paddingInner": 0, "paddingOuter": 0}},
            "y": {"field": "level", "type": "quantitative", "title": null, "scale": {"domain": [0, 700], "nice": false}}
          }
        },
        {
          "data": {"name": "ilStars"},
          "transform": [{"filter": "datum.anchor === 'center'"}],
          "mark": {"type": "text", "text": "*", "font": "Liberation Sans", "fontSize": 70, "fontWeight": "bold", "color": "#000000", "baseline": "alphabetic", "dy": 12},
          "encoding": {
            "x": {"field": "at", "type": "nominal", "title": null, "scale": {"type": "band", "domain": ["CMC", "SIL", "MSB", "APAP", "APAP+SIL", "APAP+MSB", "APAP+SIL+MSB"], "paddingInner": 0, "paddingOuter": 0}},
            "y": {"field": "level", "type": "quantitative", "title": null, "scale": {"domain": [0, 700], "nice": false}}
          }
        }
      ]
    },
    {
      "width": 3066,
      "height": 132,
      "data": {"name": "il"},
      "transform": [{"fold": ["mean", "sd"], "as": ["row", "val"]}],
      "encoding": {
        "x": {"field": "group", "type": "nominal", "title": null, "axis": null, "scale": {"type": "band", "domain": ["CMC", "SIL", "MSB", "APAP", "APAP+SIL", "APAP+MSB", "APAP+SIL+MSB"], "paddingInner": 0, "paddingOuter": 0}}
      },
      "layer": [
        {
          "mark": {"type": "rect", "fill": "#ffffff", "stroke": "#d9d9d9", "strokeWidth": 5},
          "encoding": {
            "y": {"field": "row", "type": "nominal", "title": null, "scale": {"type": "band", "domain": ["mean", "sd"], "paddingInner": 0, "paddingOuter": 0},
              "axis": {"orient": "left", "domain": false, "ticks": true, "tickBand": "extent", "tickSize": 135, "tickColor": "#d9d9d9", "tickWidth": 5, "labelExpr": "datum.value === 'mean' ? 'IL-1β' : (datum.value === 'sd' ? 'SD' : '')", "labelAlign": "center", "labelBaseline": "middle", "labelPadding": -67, "labelFont": "Lato", "labelFontSize": 36, "labelColor": "#595959", "grid": false}}
          }
        },
        {
          "mark": {"type": "text", "font": "Lato", "fontSize": 36, "color": "#595959", "baseline": "middle"},
          "encoding": {
            "y": {"field": "row", "type": "nominal", "title": null, "scale": {"type": "band", "domain": ["mean", "sd"], "paddingInner": 0, "paddingOuter": 0},
              "axis": {"orient": "left", "offset": 135, "domain": true, "domainColor": "#d9d9d9", "domainWidth": 5, "ticks": false, "labels": false, "grid": false}},
            "text": {"field": "val", "type": "quantitative", "format": ".2f"}
          }
        }
      ],
      "resolve": {"axis": {"y": "independent"}}
    },
    {
      "width": 3066,
      "height": 176,
      "data": {"name": "capB"},
      "layer": [
        {"mark": {"type": "text", "text": "(", "font": "Liberation Serif", "fontSize": 84, "color": "#000000", "align": "left", "dx": -515}, "encoding": {}},
        {"mark": {"type": "text", "text": "B", "font": "Liberation Serif", "fontSize": 84, "fontWeight": "bold", "color": "#000000", "align": "left", "dx": -487}, "encoding": {}},
        {"mark": {"type": "text", "text": ") Changes in IL-1β levels", "font": "Liberation Serif", "fontSize": 84, "color": "#000000", "align": "left", "dx": -431}, "encoding": {}}
      ]
    }
  ]
}
